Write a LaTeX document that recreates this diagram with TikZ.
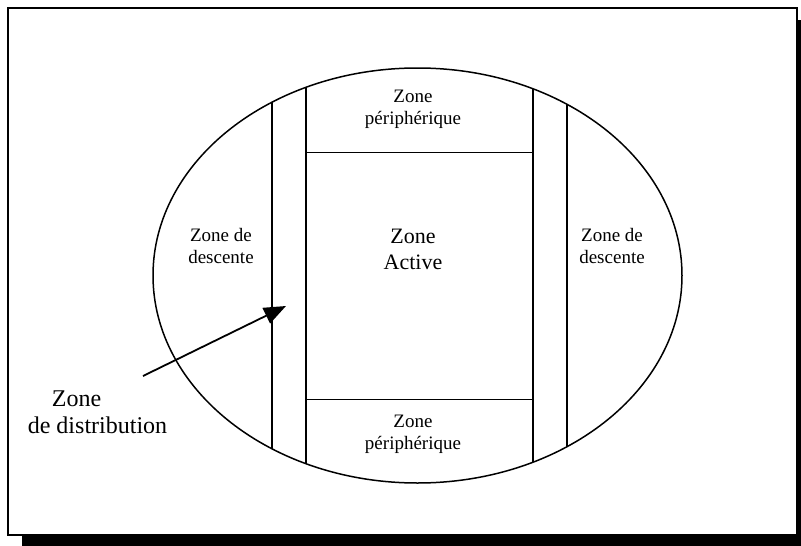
\documentclass[tikz,border=0pt]{standalone}
\usepackage{fontspec}
\setmainfont{Liberation Serif}
\usetikzlibrary{arrows.meta}

\tikzset{
  zonelabel/.style={align=center,inner sep=0pt,font=\fontsize{19}{22}\selectfont},
  biglabel/.style={align=center,inner sep=0pt,font=\fontsize{22}{26}\selectfont},
  wall/.style={line width=1.7pt},
  thinwall/.style={line width=1.2pt},
}

\begin{document}
\begin{tikzpicture}[x=1pt,y=-1pt]
    \useasboundingbox (0,0) rectangle (801,546);
    % frame with its shadow
    \fill[black] (22,20) rectangle (801,546);
    \draw[line width=1.2pt,fill=white] (8,8) rectangle (797,535);

    % the vessel
    \draw[line width=1.5pt] (417.5,275.5) ellipse [x radius=264.5,y radius=207.5];
    \begin{scope}
      \clip (417.5,275.5) ellipse [x radius=264.5,y radius=207.5];
      \draw[wall] (272,0) -- (272,546);
      \draw[thinwall] (306,0) -- (306,546);
      \draw[thinwall] (533,0) -- (533,546);
      \draw[wall] (567,0) -- (567,546);
    \end{scope}
    \draw[line width=0.9pt] (306,152) -- (533,152);
    \draw[line width=0.9pt] (306,399) -- (533,399);

    % labels
    \node[zonelabel] (descLeft)  at (221,246) {Zone de\\descente};
    \node[zonelabel] (descRight) at (612,246) {Zone de\\descente};
    \node[zonelabel] (periTop)   at (413,109) {Zone\\périphérique};
    \node[zonelabel] (periBot)   at (413,434) {Zone\\périphérique};
    \node[biglabel]  (active)    at (413,249) {Zone\\Active};
    \node[align=left,inner sep=0pt,font=\fontsize{24}{27}\selectfont]
      (distrib) at (97.5,412) {\hspace*{24pt}Zone\\de distribution};

    % pointer to the distribution zone
    \coordinate (distTail) at (143,376);
    \coordinate (distTip) at (286,306);
    \draw[line width=1.8pt,-{Triangle[length=22pt,width=17pt]}] (distTail) -- (distTip);
\end{tikzpicture}
\end{document}
